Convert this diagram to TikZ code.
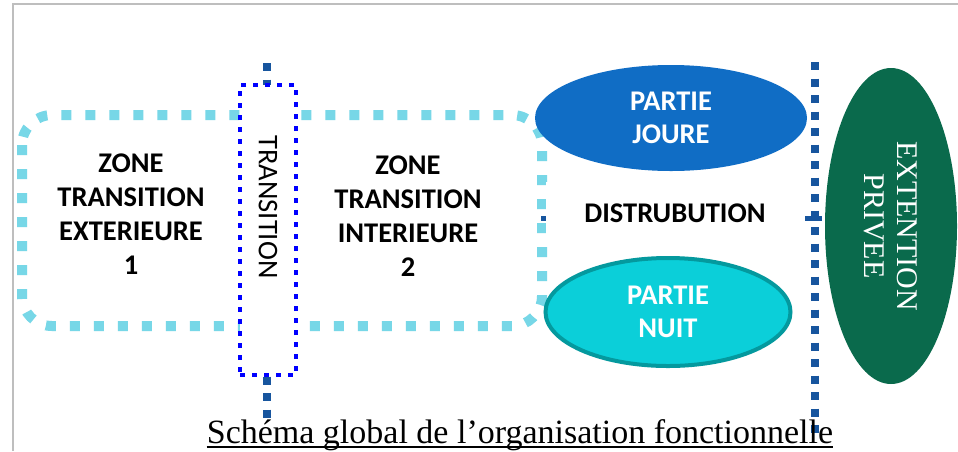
\documentclass[tikz,border=0pt]{standalone}
\usepackage{fontspec}
\setmainfont{Carlito}
\newfontfamily\serifrm{Liberation Serif}
\usetikzlibrary{shapes.geometric}
\definecolor{framegray}{RGB}{190,190,190}
\definecolor{zonecyan}{RGB}{119,215,231}
\definecolor{transblue}{RGB}{0,0,255}
\definecolor{darkdot}{RGB}{23,85,158}
\definecolor{jourefill}{RGB}{16,109,197}
\definecolor{nuitfill}{RGB}{11,207,217}
\definecolor{nuitline}{RGB}{4,153,158}
\definecolor{extfill}{RGB}{10,106,76}
\tikzset{
  cyanzone/.style={draw=zonecyan, line width=10pt, dash pattern=on 10pt off 14pt, rounded corners=30pt},
  transbox/.style={draw=transblue, fill=white, line width=4.5pt, dash pattern=on 5pt off 7pt, minimum width=56pt, minimum height=290pt, inner sep=0pt},
  darkdots/.style={draw=darkdot, line width=8pt, dash pattern=on 8pt off 8.5pt},
  boldtxt/.style={align=center, font=\bfseries\fontsize{28.5}{34}\selectfont, inner sep=0pt},
  ell/.style={ellipse, inner sep=0pt, align=center, text=white, font=\bfseries\fontsize{28.5}{33}\selectfont},
}
\begin{document}
\begin{tikzpicture}[x=1pt,y=-1pt]
\useasboundingbox (0,0) rectangle (958,451);
\fill[white] (0,0) rectangle (958,451);
\draw[framegray, line width=1.5pt] (13,451) -- (13,4) -- (958,4);
% zones outline
\draw[cyanzone] (22,115) rectangle (542,326);
% vertical dotted lines
\coordinate (l1t) at (267,63);
\coordinate (l1b) at (267,421);
\coordinate (l2t) at (815,62);
\coordinate (l2b) at (815,440);
\draw[darkdots] (l1t) -- (l1b);
\draw[darkdots] (l2t) -- (l2b);
% transition box
\node[transbox] (tr) at (268,230) {};
\node[rotate=-90, font=\fontsize{28.5}{32}\selectfont, inner sep=0pt] (trtxt) at (268,207) {TRANSITION};
% zone texts
\node[boldtxt] (z1) at (131,214) {ZONE\\TRANSITION\\EXTERIEURE\\1};
\node[boldtxt] (z2) at (408,216) {ZONE\\TRANSITION\\INTERIEURE\\2};
% ellipses
\node[ell, fill=jourefill, minimum width=272pt, minimum height=106pt] (joure) at (671,118) {PARTIE\\JOURE};
\node[ell, fill=nuitfill, draw=nuitline, line width=4pt, minimum width=245pt, minimum height=108pt] (nuit) at (668,312) {PARTIE\\NUIT};
\node[ell, fill=extfill, rotate=-90, minimum width=316pt, minimum height=132pt, font=\serifrm\fontsize{30}{33}\selectfont] (ext) at (891,226) {EXTENTION\\PRIVEE};
% distribution
\coordinate (dl) at (541,218);
\coordinate (dr) at (822,218);
\draw[darkdot, line width=5pt] (dl) -- (dr);
\node[fill=white, minimum width=259pt, minimum height=62pt, inner sep=0pt, font=\bfseries\fontsize{28.5}{33}\selectfont] (dist) at (675,213) {DISTRUBUTION};
% caption
\node[anchor=base, inner sep=0pt, font=\serifrm\fontsize{34}{38}\selectfont] (cap) at (520,443) {Schéma global de l’organisation fonctionnelle};
\draw[line width=1.5pt] ([yshift=-4pt]cap.base west) -- ([yshift=-4pt]cap.base east);
\end{tikzpicture}
\end{document}
